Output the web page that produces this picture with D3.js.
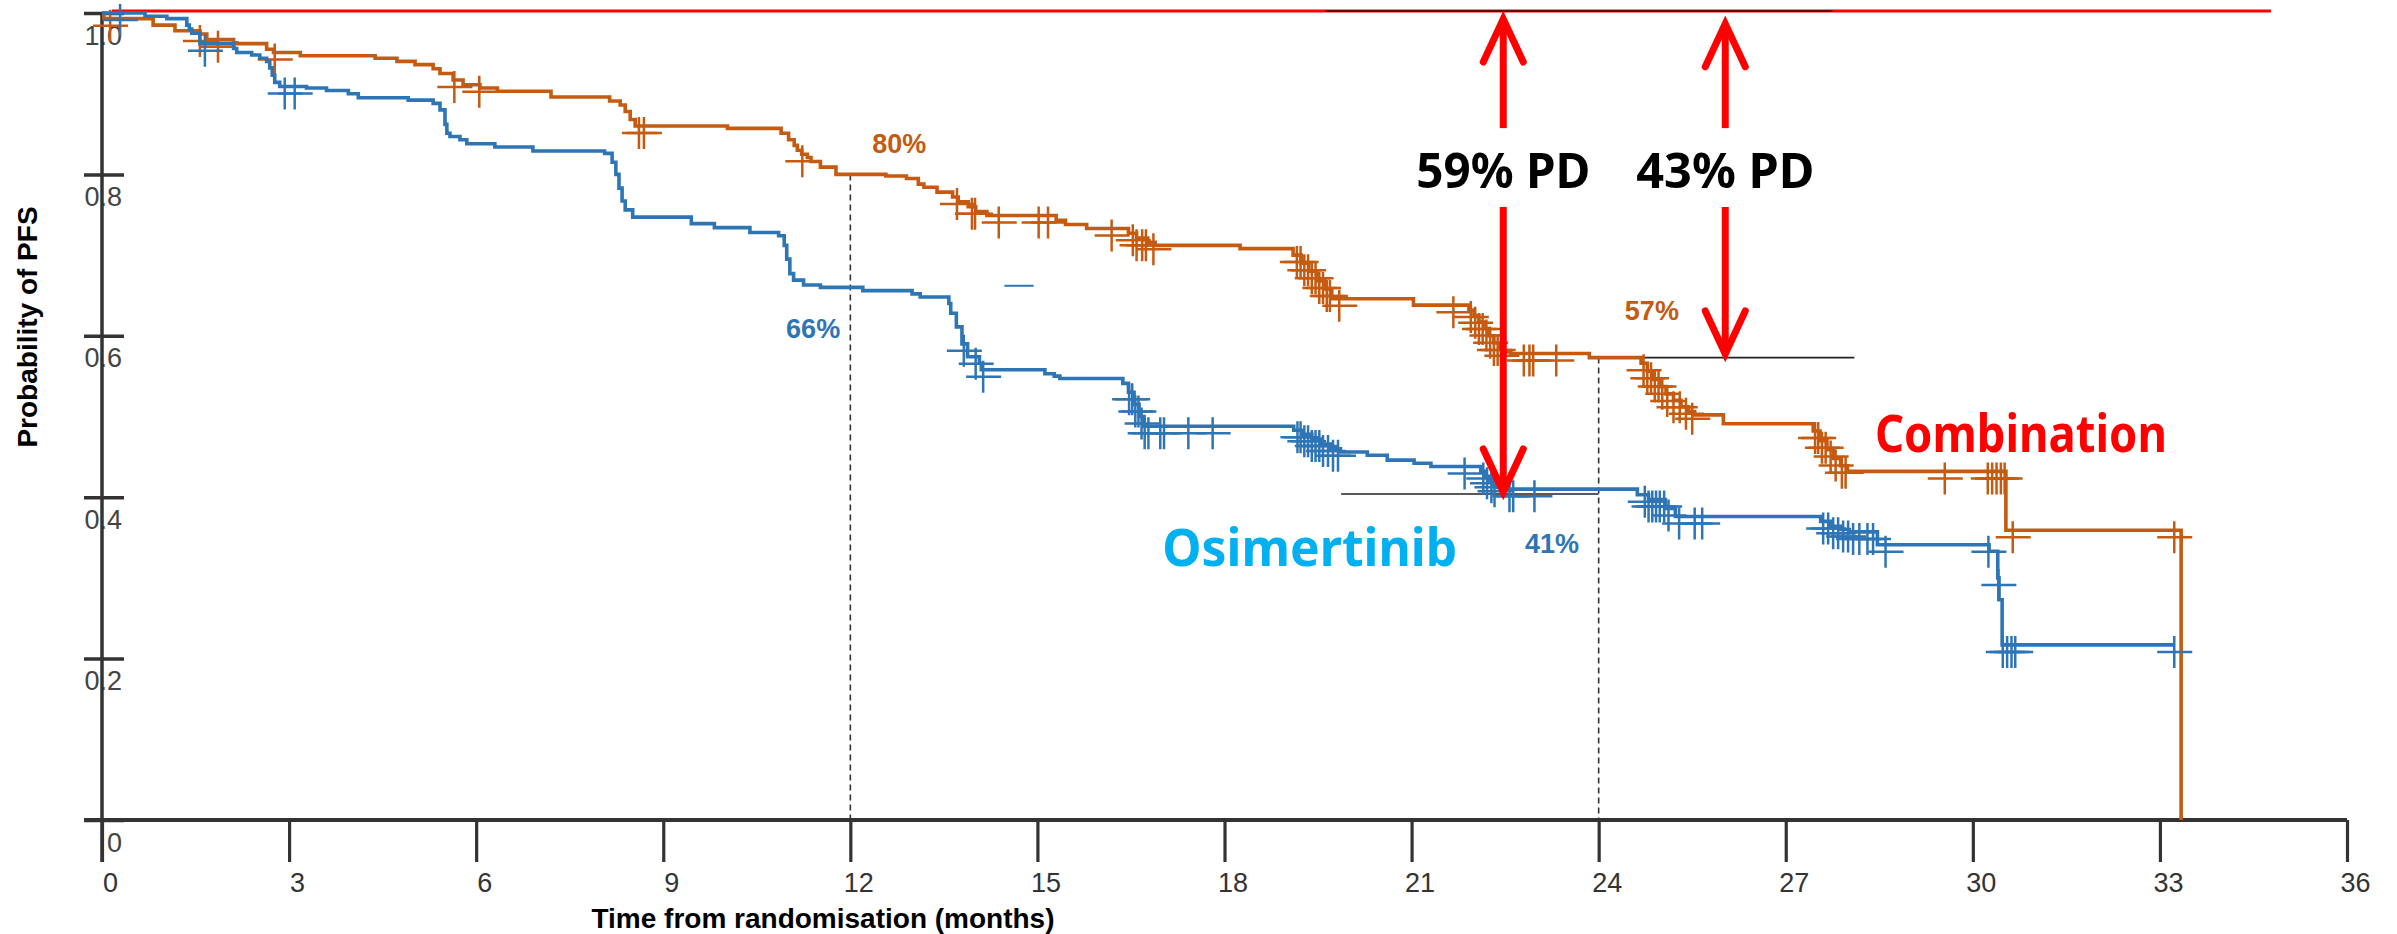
<!DOCTYPE html>
<html>
<head>
<meta charset="utf-8">
<script src="https://cdn.jsdelivr.net/npm/d3@7"></script>
<style>
  html, body { margin: 0; padding: 0; background: #fff; }
  svg { display: block; }
</style>
</head>
<body>
<svg id="chart" width="2397" height="934"></svg>
<script>
// Kaplan–Meier progression-free survival: Combination vs Osimertinib

const monthTicks = [0, 3, 6, 9, 12, 15, 18, 21, 24, 27, 30, 33, 36];
const probTicks = [0, 0.2, 0.4, 0.6, 0.8, 1.0];

// [month, survival after the step]
const combinationSteps = [
  [0, 1.0], [0.03, 0.993], [0.82, 0.985], [1.17, 0.978], [1.57, 0.974], [1.68, 0.967],
  [2.11, 0.963], [2.16, 0.962], [2.64, 0.955], [2.75, 0.951], [3.18, 0.947], [4.38, 0.944],
  [4.73, 0.940], [5.02, 0.936], [5.31, 0.931], [5.42, 0.925], [5.63, 0.917], [5.79, 0.911],
  [6.06, 0.907], [6.34, 0.903], [7.20, 0.896], [8.14, 0.891], [8.31, 0.886], [8.39, 0.878],
  [8.47, 0.868], [8.55, 0.860], [10.03, 0.857], [10.89, 0.851], [11.01, 0.843], [11.10, 0.836],
  [11.15, 0.830], [11.22, 0.825], [11.31, 0.821], [11.37, 0.816], [11.52, 0.809], [11.77, 0.800],
  [12.57, 0.798], [12.90, 0.795], [13.09, 0.788], [13.18, 0.784], [13.39, 0.778], [13.64, 0.772],
  [13.73, 0.766], [13.89, 0.760], [14.01, 0.754], [14.19, 0.749], [15.30, 0.743], [15.45, 0.738],
  [15.79, 0.733], [16.46, 0.727], [16.59, 0.721], [16.77, 0.716], [16.89, 0.712], [18.25, 0.708],
  [19.10, 0.700], [19.23, 0.690], [19.35, 0.680], [19.48, 0.668], [19.60, 0.658], [19.72, 0.646],
  [21.03, 0.638], [21.92, 0.632], [22.00, 0.625], [22.08, 0.617], [22.16, 0.609], [22.24, 0.600],
  [22.32, 0.591], [22.40, 0.584], [22.47, 0.580], [22.59, 0.578], [23.85, 0.573], [24.68, 0.566],
  [24.78, 0.556], [24.88, 0.546], [24.98, 0.537], [25.08, 0.528], [25.20, 0.520], [25.32, 0.512],
  [25.44, 0.506], [25.54, 0.502], [26.00, 0.491], [27.44, 0.482], [27.55, 0.470], [27.66, 0.459],
  [27.77, 0.448], [27.88, 0.439], [27.99, 0.432], [30.53, 0.359], [33.34, 0.0]
];
const combinationEnd = 33.34;
const combinationCensored = [
  0.13, 1.57, 1.86, 2.77, 5.65, 6.05, 8.61, 8.69, 11.23, 13.71, 13.95, 14.0, 14.38, 15.02, 15.17,
  16.19, 16.53, 16.59, 16.68, 16.74, 16.86, 19.16, 19.22, 19.28, 19.34, 19.40, 19.46, 19.52,
  19.58, 19.64, 19.69, 19.84, 21.67, 21.95, 22.02, 22.08, 22.14, 22.20, 22.26, 22.32, 22.38,
  22.44, 22.80, 22.89, 22.95, 23.32, 24.72, 24.78, 24.84, 24.90, 24.96, 25.02, 25.10, 25.20,
  25.30, 25.40, 25.50, 27.47, 27.52, 27.58, 27.64, 27.72, 27.80, 27.90, 27.96, 29.55, 30.24,
  30.31, 30.38, 30.45, 30.51, 30.64, 33.23
];

const osimertinibSteps = [
  [0, 1.0], [0.69, 0.996], [1.04, 0.993], [1.36, 0.985], [1.40, 0.980], [1.44, 0.975],
  [1.57, 0.962], [2.11, 0.956], [2.16, 0.951], [2.40, 0.948], [2.53, 0.944], [2.64, 0.940],
  [2.69, 0.932], [2.73, 0.923], [2.77, 0.914], [2.85, 0.909], [3.28, 0.907], [3.60, 0.904],
  [3.95, 0.900], [4.11, 0.895], [4.91, 0.892], [5.31, 0.888], [5.42, 0.880], [5.50, 0.862],
  [5.53, 0.851], [5.58, 0.847], [5.74, 0.843], [5.85, 0.838], [6.30, 0.834], [6.91, 0.829],
  [8.06, 0.826], [8.18, 0.815], [8.24, 0.800], [8.29, 0.783], [8.34, 0.767], [8.39, 0.756],
  [8.51, 0.747], [9.45, 0.739], [9.82, 0.734], [10.39, 0.728], [10.85, 0.724], [10.94, 0.712],
  [10.98, 0.695], [11.03, 0.677], [11.09, 0.669], [11.25, 0.663], [11.52, 0.660], [12.20, 0.656],
  [12.99, 0.652], [13.12, 0.648], [13.58, 0.640], [13.61, 0.628], [13.70, 0.611], [13.79, 0.590],
  [13.88, 0.574], [14.07, 0.566], [14.10, 0.558], [15.12, 0.553], [15.27, 0.550], [15.36, 0.547],
  [16.37, 0.541], [16.46, 0.530], [16.55, 0.515], [16.63, 0.500], [16.71, 0.488], [19.11, 0.483],
  [19.25, 0.478], [19.40, 0.472], [19.55, 0.466], [19.70, 0.460], [19.86, 0.456], [20.29, 0.452],
  [20.61, 0.446], [21.04, 0.442], [21.31, 0.438], [22.11, 0.432], [22.18, 0.426], [22.25, 0.421],
  [22.32, 0.416], [22.38, 0.412], [22.43, 0.410], [24.62, 0.403], [24.80, 0.397], [25.07, 0.386],
  [25.23, 0.376], [27.56, 0.370], [27.72, 0.364], [27.88, 0.360], [28.02, 0.357], [28.47, 0.341],
  [30.26, 0.333], [30.40, 0.300], [30.42, 0.273], [30.47, 0.217]
];
const osimertinibEnd = 33.23;
const osimertinibCensored = [
  0.29, 1.65, 2.93, 3.09, 13.82, 14.01, 14.13, 16.47, 16.52, 16.57, 16.62, 16.67, 16.72, 16.78,
  16.97, 17.03, 17.42, 17.81, 19.17, 19.22, 19.28, 19.34, 19.40, 19.46, 19.52, 19.58, 19.66,
  19.74, 19.82, 21.85, 22.15, 22.21, 22.28, 22.33, 22.57, 22.63, 22.97, 24.74, 24.80, 24.86,
  24.92, 24.98, 25.05, 25.12, 25.29, 25.54, 25.66, 27.60, 27.68, 27.76, 27.84, 27.92, 28.00,
  28.08, 28.18, 28.31, 28.40, 28.60, 30.25, 30.41, 30.48, 30.55, 30.62, 30.68, 33.23
];

// landmark guides (dashed) and reading lines
const landmarkGuides = [ { month: 12, prob: 0.80 }, { month: 24, prob: 0.573 } ];
const readingLines = [ { from: 19.87, to: 24.0, prob: 0.404 }, { from: 23.97, to: 28.1, prob: 0.573 } ];

// landmark rate labels
const rateLabels = [
  { text: "80%", month: 12.35, prob: 0.827, color: "#C55A11" },
  { text: "66%", month: 10.97, prob: 0.597, color: "#2E75B6" },
  { text: "57%", month: 24.42, prob: 0.620, color: "#C55A11" },
  { text: "41%", month: 22.82, prob: 0.331, color: "#2E75B6" }
];

// arm names
const armLabels = [
  { text: "Osimertinib", month: 17.0, prob: 0.315, width: 295, color: "#00B0F0" },
  { text: "Combination", month: 28.43, prob: 0.456, width: 292, color: "#FF0000" }
];

// progression arrows: from the 100% line down to each arm's value
const pdArrows = [
  { month: 22.47, top: 1.0, tip: 0.399, text: "59% PD", width: 174 },
  { month: 26.03, top: 0.994, tip: 0.570, text: "43% PD", width: 178 }
];
const pdLabelProb = 0.783;

// 100% reference line and its dark middle portion
const fullLine = { from: 0.16, to: 34.78, prob: 1.0 };
const fullLineDark = { from: 19.62, to: 27.75 };
// short stray stroke near the osimertinib curve
const strayDash = { from: 14.47, to: 14.94, prob: 0.662 };

const COMBO = "#C55A11", OSI = "#2E75B6", AXIS = "#333333";
const tickFont = "'Liberation Sans', Arial, sans-serif";
const labelFont = "'Noto Sans', 'Open Sans', sans-serif";

const svg = d3.select("#chart");
const x = d3.scaleLinear().domain([0, 36]).range([102, 2347]);
const y = d3.scaleLinear().domain([0, 1]).range([820, 13]);

function stepAt(steps, t) {
  let v = steps[0][1];
  for (const [m, s] of steps) { if (m <= t) v = s; else break; }
  return v;
}

// --- y axis (labels first so the axis line crosses them) ---
const yAxis = d3.axisLeft(y).tickValues(probTicks).tickSize(18).tickSizeOuter(0)
  .tickFormat(d => d === 0 ? "0" : d.toFixed(1));
const gy = svg.append("g").attr("transform", `translate(${x(0)},0)`).call(yAxis);
gy.select(".domain").remove();
gy.selectAll(".tick line").attr("x1", 22).attr("x2", -18)
  .attr("stroke", AXIS).attr("stroke-width", 3.5);
gy.selectAll(".tick text").attr("x", 20).attr("y", 31).attr("dy", 0)
  .attr("text-anchor", "end").attr("fill", "#444")
  .style("font-family", tickFont).style("font-size", "27px");

// --- x axis ---
const xAxis = d3.axisBottom(x).tickValues(monthTicks).tickSize(42).tickSizeOuter(0)
  .tickFormat(d3.format("d"));
const gx = svg.append("g").attr("transform", `translate(0,${y(0)})`).call(xAxis);
gx.select(".domain").remove();
gx.selectAll(".tick line").attr("stroke", AXIS).attr("stroke-width", 3.2);
gx.selectAll(".tick text").attr("y", 72).attr("dy", 0).attr("dx", 8)
  .attr("fill", "#333")
  .style("font-family", tickFont).style("font-size", "27px");

svg.append("line")
  .attr("x1", x(0) - 18).attr("x2", x(36)).attr("y1", y(0)).attr("y2", y(0))
  .attr("stroke", AXIS).attr("stroke-width", 4);
svg.append("line")
  .attr("x1", x(0)).attr("x2", x(0)).attr("y1", y(1)).attr("y2", y(0) + 42)
  .attr("stroke", AXIS).attr("stroke-width", 3.5);

// axis titles
svg.append("text").attr("x", 823).attr("y", 928).attr("text-anchor", "middle")
  .style("font-family", tickFont).style("font-size", "28px").style("font-weight", "bold")
  .attr("fill", "#000").text("Time from randomisation (months)");
svg.append("text").attr("transform", "translate(37,327) rotate(-90)").attr("text-anchor", "middle")
  .style("font-family", tickFont).style("font-size", "28px").style("font-weight", "bold")
  .attr("fill", "#000").text("Probability of PFS");

// --- 100% reference line ---
svg.append("line")
  .attr("x1", x(fullLine.from)).attr("x2", x(fullLine.to))
  .attr("y1", y(fullLine.prob) - 2).attr("y2", y(fullLine.prob) - 2)
  .attr("stroke", "#FF0000").attr("stroke-width", 3);
svg.append("line")
  .attr("x1", x(fullLineDark.from)).attr("x2", x(fullLineDark.to))
  .attr("y1", y(fullLine.prob) - 2).attr("y2", y(fullLine.prob) - 2)
  .attr("stroke", "#3a0a0a").attr("stroke-width", 1.6);

// --- landmark guides ---
svg.selectAll(".guide").data(landmarkGuides).enter().append("line")
  .attr("x1", d => x(d.month)).attr("x2", d => x(d.month))
  .attr("y1", d => y(d.prob)).attr("y2", y(0))
  .attr("stroke", "#333").attr("stroke-width", 1.6).attr("stroke-dasharray", "6,4");
svg.selectAll(".reading").data(readingLines).enter().append("line")
  .attr("x1", d => x(d.from)).attr("x2", d => x(d.to))
  .attr("y1", d => y(d.prob)).attr("y2", d => y(d.prob))
  .attr("stroke", "#222").attr("stroke-width", 1.6);

// --- survival curves ---
const stepLine = d3.line().x(d => x(d[0])).y(d => y(d[1])).curve(d3.curveStepAfter);
function drawArm(steps, end, censored, color) {
  const pts = steps.concat([[end, steps[steps.length - 1][1]]]);
  svg.append("path").attr("d", stepLine(pts))
    .attr("fill", "none").attr("stroke", color).attr("stroke-width", 3.6)
    .attr("stroke-linejoin", "miter");
  svg.append("g").selectAll("path").data(censored).enter().append("path")
    .attr("d", t => {
      const cx = x(t), cy = y(stepAt(steps, t)) + 7;
      return `M${cx - 17},${cy}h35M${cx},${cy - 16}v32`;
    })
    .attr("fill", "none").attr("stroke", color).attr("stroke-width", 2.5);
}
drawArm(combinationSteps, combinationEnd, combinationCensored, COMBO);
drawArm(osimertinibSteps, osimertinibEnd, osimertinibCensored, OSI);

svg.append("line")
  .attr("x1", x(strayDash.from)).attr("x2", x(strayDash.to))
  .attr("y1", y(strayDash.prob)).attr("y2", y(strayDash.prob))
  .attr("stroke", OSI).attr("stroke-width", 2);

// --- rate labels ---
svg.selectAll(".rate").data(rateLabels).enter().append("text")
  .attr("x", d => x(d.month)).attr("y", d => y(d.prob))
  .attr("fill", d => d.color)
  .style("font-family", tickFont).style("font-size", "27px").style("font-weight", "bold")
  .text(d => d.text);

svg.selectAll(".arm").data(armLabels).enter().append("text")
  .attr("x", d => x(d.month)).attr("y", d => y(d.prob))
  .attr("fill", d => d.color)
  .attr("textLength", d => d.width).attr("lengthAdjust", "spacingAndGlyphs")
  .style("font-family", labelFont).style("font-size", "52px").style("font-weight", "bold")
  .text(d => d.text);

// --- PD arrows ---
const labelY = y(pdLabelProb);
pdArrows.forEach(a => {
  const ax = x(a.month), topY = y(a.top) + 6, tipY = y(a.tip) - 6;
  const g = svg.append("g").attr("stroke", "#FF0000").attr("fill", "none");
  g.append("line").attr("x1", ax).attr("x2", ax).attr("y1", topY).attr("y2", labelY - 60)
    .attr("stroke-width", 7);
  g.append("line").attr("x1", ax).attr("x2", ax).attr("y1", labelY + 19).attr("y2", tipY)
    .attr("stroke-width", 7);
  g.append("path").attr("d", `M${ax - 20},${topY + 43}L${ax},${topY}L${ax + 20},${topY + 43}`)
    .attr("stroke-width", 7).attr("stroke-linecap", "round").attr("stroke-linejoin", "miter");
  g.append("path").attr("d", `M${ax - 20},${tipY - 43}L${ax},${tipY}L${ax + 20},${tipY - 43}`)
    .attr("stroke-width", 7).attr("stroke-linecap", "round").attr("stroke-linejoin", "miter");
  svg.append("text").attr("x", ax).attr("y", labelY).attr("text-anchor", "middle")
    .attr("fill", "#000").attr("textLength", a.width).attr("lengthAdjust", "spacingAndGlyphs")
    .style("font-family", labelFont).style("font-size", "49px").style("font-weight", "bold")
    .text(a.text);
});
</script>
</body>
</html>
